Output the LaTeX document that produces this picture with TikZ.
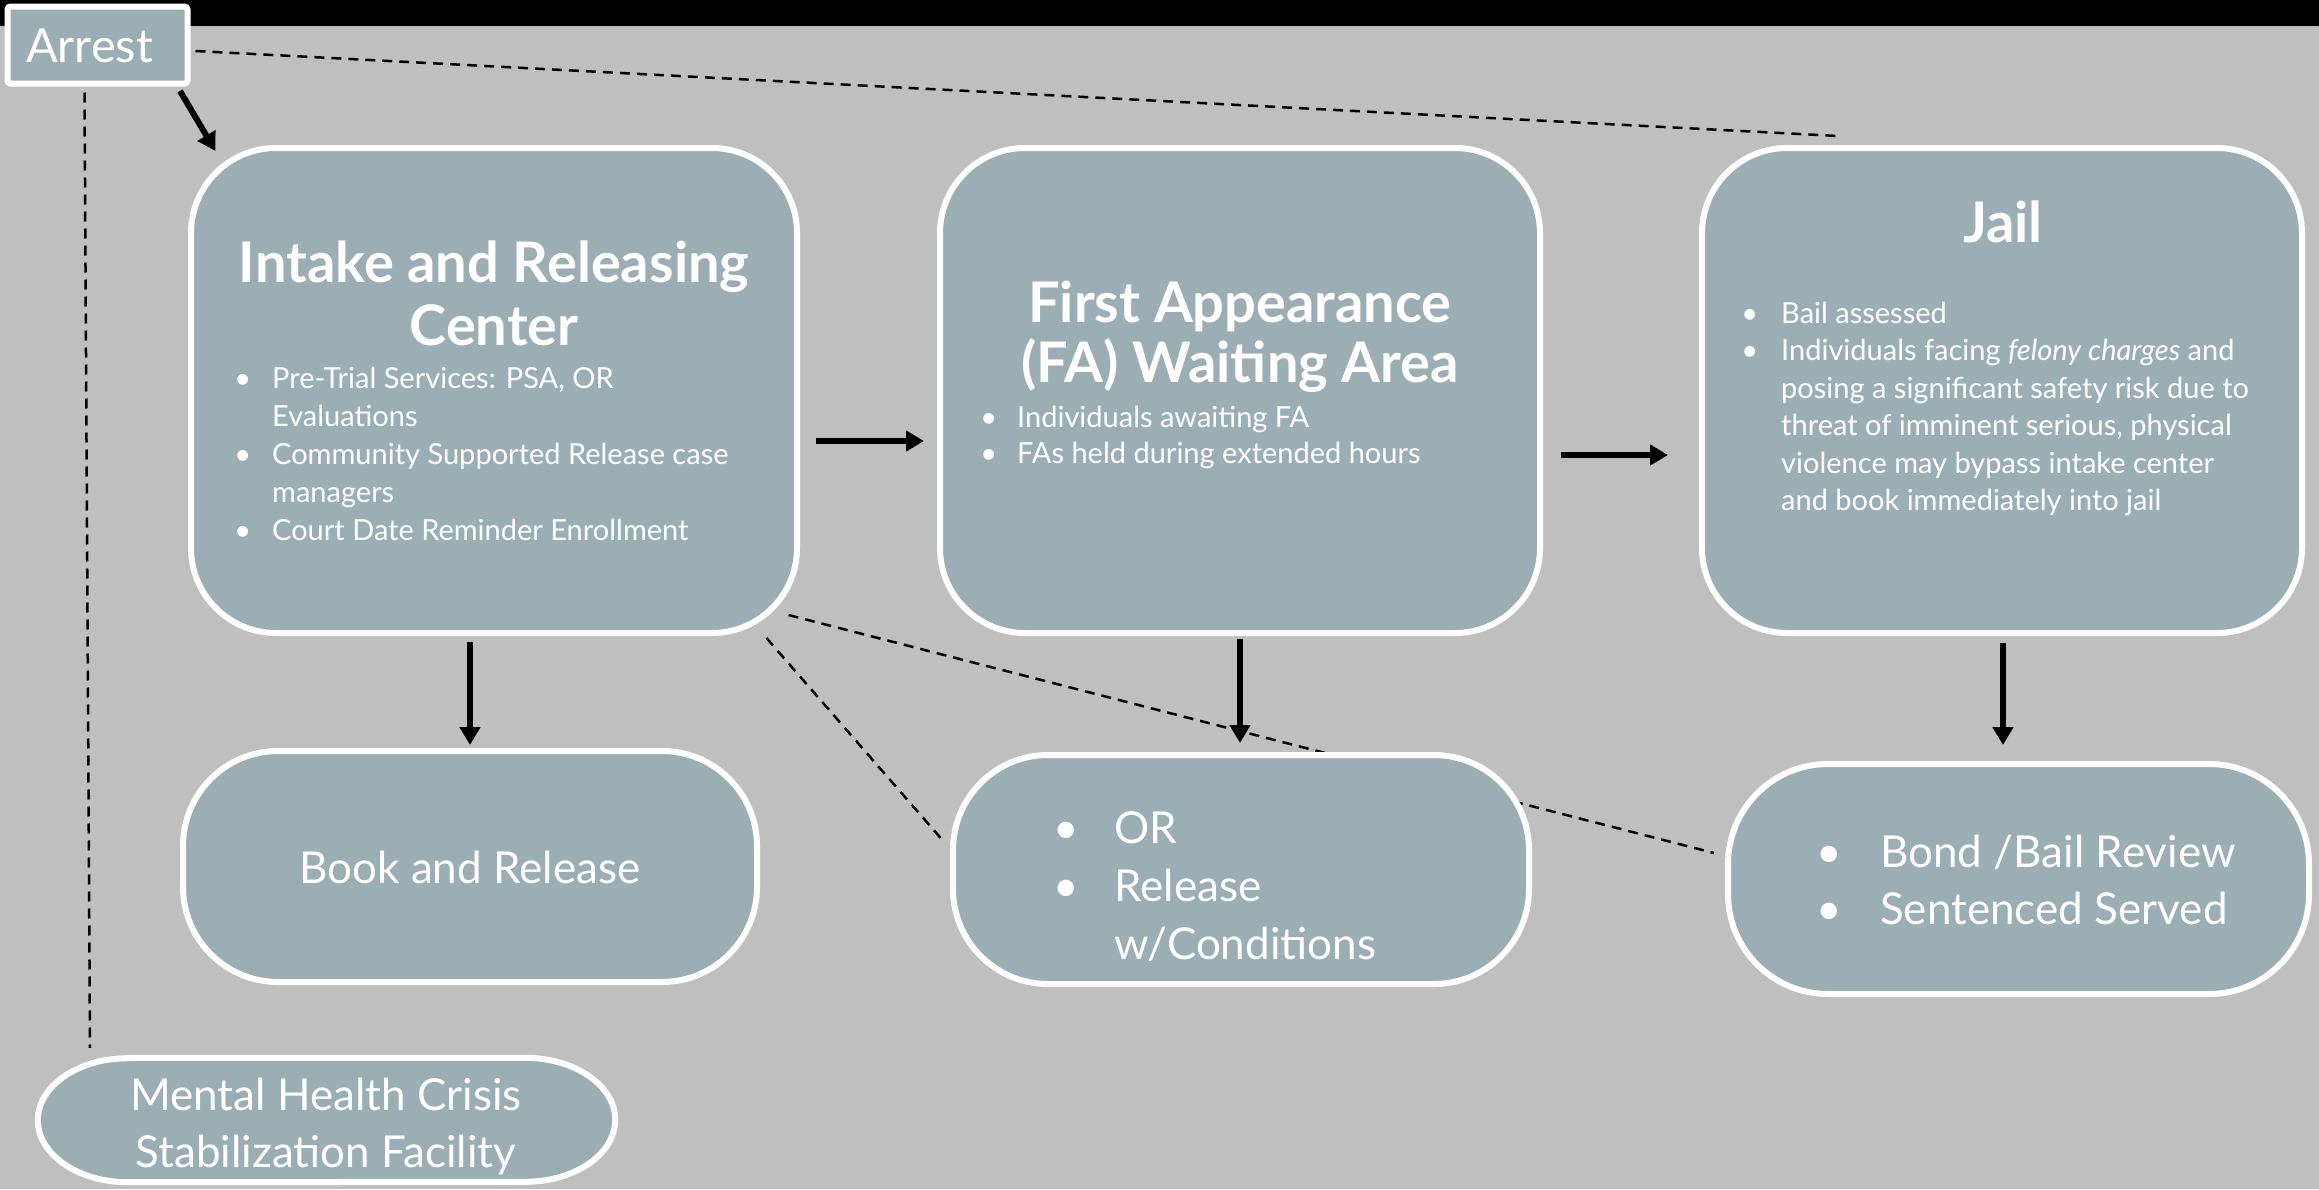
\documentclass[tikz,border=0pt]{standalone}
\usepackage{fontspec}
\setmainfont{Lato}
\usetikzlibrary{arrows.meta}
\definecolor{bgray}{RGB}{191,191,191}
\definecolor{boxfill}{RGB}{155,174,180}
\pgfdeclarelayer{back}
\pgfdeclarelayer{lines}
\pgfsetlayers{back,lines,main}
\newcommand\bitem[2]{\par\hangindent=#1\hangafter=1\noindent\makebox[#1][l]{\kern-0.2em•}#2}
\newcommand\blist[1]{\parbox[t]{700pt}{#1}}
\newcommand\ctr[1]{\parbox[t]{620pt}{\centering #1}}
\begin{document}
\begin{tikzpicture}[x=1pt,y=-1pt,
  box/.style={draw=white, line width=6pt, fill=boxfill, inner sep=0pt},
  bigbox/.style={box, rounded corners=85pt, minimum width=603pt, minimum height=485pt},
  lowbox/.style={box, rounded corners=95pt},
  arr/.style={line width=6pt, -{Triangle[width=20pt,length=18pt]}, black},
  dline/.style={black, line width=2.5pt, dash pattern=on 10pt off 7pt},
  wt/.style={text=white, inner sep=0pt},
  ttl/.style={wt, font=\bfseries\fontsize{56}{63}\selectfont, anchor=base},
  small/.style={wt, font=\fontsize{29}{38}\selectfont, anchor=base west},
  big/.style={wt, font=\fontsize{44}{57}\selectfont},
]
\useasboundingbox (0,0) rectangle (2319,1189);
\begin{pgfonlayer}{back}
\fill[bgray] (0,0) rectangle (2319,1189);
\fill[black] (0,0) rectangle (2319,26);
\end{pgfonlayer}

% boxes
\node[box, rounded corners=3pt, minimum width=180pt, minimum height=77pt] (arrest) at (97.5,45) {};
\node[bigbox, minimum width=606pt] (intake) at (494,390.5) {};
\node[bigbox, minimum width=600pt] (fa) at (1240,390.5) {};
\node[bigbox, minimum width=600pt] (jail) at (2002,390.5) {};
\node[lowbox, minimum width=574pt, minimum height=231pt] (book) at (470,866.5) {};
\node[lowbox, minimum width=576pt, minimum height=229pt] (orbox) at (1241,869.5) {};
\node[lowbox, rounded corners=100pt, minimum width=581pt, minimum height=230pt] (bond) at (2018.5,879) {};
\node[inner sep=0pt, minimum width=577pt, minimum height=124pt] (mh) at (326.5,1120) {};
\draw[box] ([shift={(90,0)}]mh.north west) -- ([shift={(-90,0)}]mh.north east)
  arc[start angle=-90, end angle=90, x radius=90, y radius=62]
  -- ([shift={(90,0)}]mh.south west)
  arc[start angle=90, end angle=270, x radius=90, y radius=62] -- cycle;
\coordinate (jailpt) at (1838,136);

% dashed connectors
\begin{pgfonlayer}{lines}
\draw[dline] ([shift={(5,6)}]arrest.east) -- (jailpt);
\draw[dline] ([shift={(-13,6)}]arrest.south) -- ([shift={(-236.5,-10)}]mh.north);
\draw[dline] ([shift={(-11.5,-21)}]intake.south east) -- ([shift={(-11,-26)}]bond.west);
\draw[dline] ([shift={(-33.5,2)}]intake.south east) -- ([shift={(-5,-26.5)}]orbox.west);
\end{pgfonlayer}

% arrows
\draw[arr] ([shift={(-10.5,4.5)}]arrest.south east) -- ([shift={(27.5,6)}]intake.north west);
\draw[arr] ([shift={(16,50.5)}]intake.east) -- ([shift={(-13,50.5)}]fa.west);
\draw[arr] ([shift={(18,64.5)}]fa.east) -- ([shift={(-31,64.5)}]jail.west);
\draw[arr] ([shift={(-24,6)}]intake.south) -- ([shift={(0,-3)}]book.north);
\draw[arr] ([shift={(0,3)}]fa.south) -- ([shift={(-1,-9)}]orbox.north);
\draw[arr] ([shift={(1,7)}]jail.south) -- ([shift={(-15.5,-16)}]bond.north);

% texts
\node[wt, font=\fontsize{47}{54}\selectfont, anchor=base] (arresttxt) at (89.5,62) {Arrest};
\node[ttl] (intaketitle) at (494,282) {\ctr{Intake and Releasing\\Center}};
\node[small] (intaketxt) at (240,388) {\blist{\bitem{32pt}{Pre-Trial Services: PSA, OR\\Evaluations}\bitem{32pt}{Community Supported Release case\\managers}\bitem{32pt}{Court Date Reminder Enrollment}}};
\node[ttl, font=\bfseries\fontsize{56}{60}\selectfont] (fatitle) at (1240,322) {\ctr{First Appearance\\(FA) Waiting Area}};
\node[small, font=\fontsize{29}{36}\selectfont] (fatxt) at (986,427) {\blist{\bitem{31pt}{Individuals awaiting FA}\bitem{31pt}{FAs held during extended hours}}};
\node[ttl] (jailtitle) at (2003,242) {\ctr{Jail}};
\node[small, font=\fontsize{29}{37.5}\selectfont] (jailtxt) at (1747,323) {\blist{\bitem{34pt}{Bail assessed}\bitem{34pt}{Individuals facing \textit{felony charges} and\\posing a significant safety risk due to\\threat of imminent serious, physical\\violence may bypass intake center\\and book immediately into jail}}};
\node[big, anchor=base] (booktxt) at (470,883) {Book and Release};
\node[big, anchor=base west, font=\fontsize{44}{58}\selectfont] (ortxt) at (1062,843) {\blist{\bitem{52pt}{OR}\bitem{52pt}{Release\\w/Conditions}}};
\node[big, anchor=base west] (bondtxt) at (1825,867) {\blist{\bitem{55pt}{Bond /Bail Review}\bitem{55pt}{Sentenced Served}}};
\node[big, anchor=base] (mhtxt) at (326,1110) {\ctr{Mental Health Crisis\\Stabilization Facility}};
\end{tikzpicture}
\end{document}
